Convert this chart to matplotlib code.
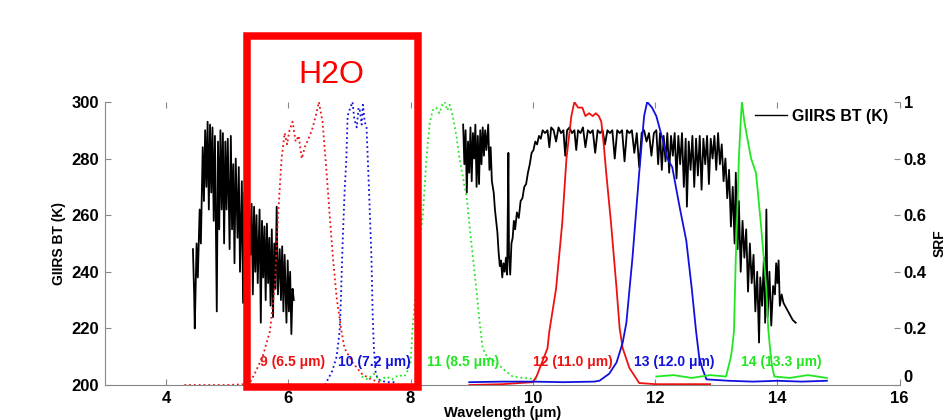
import matplotlib
matplotlib.use('Agg')
from matplotlib import pyplot as plt
from matplotlib.patches import Rectangle
from matplotlib.lines import Line2D

plt.rcParams['font.family'] = ['Liberation Sans', 'DejaVu Sans']

# GIIRS brightness temperature, (wavelength um, BT K)
bt_mw = [(4.44, 248), (4.46, 232), (4.47, 220), (4.50, 250), (4.52, 238), (4.55, 262), (4.57, 250),
         (4.60, 284), (4.62, 265), (4.64, 290), (4.66, 270), (4.68, 293), (4.70, 262), (4.72, 292),
         (4.74, 268), (4.76, 291), (4.78, 258), (4.80, 288), (4.83, 226), (4.85, 286), (4.87, 255),
         (4.89, 290), (4.91, 262), (4.93, 289), (4.95, 250), (4.97, 286), (4.99, 262), (5.01, 287),
         (5.04, 248), (5.06, 288), (5.08, 255), (5.10, 278), (5.12, 243), (5.14, 280), (5.17, 252),
         (5.19, 277), (5.21, 240), (5.24, 272), (5.26, 229), (5.28, 268), (5.30, 242), (5.32, 266),
         (5.34, 236), (5.36, 262), (5.38, 246), (5.40, 264), (5.42, 232), (5.44, 263), (5.46, 240),
         (5.48, 260), (5.50, 236), (5.53, 262), (5.55, 222), (5.57, 258), (5.59, 238), (5.61, 256),
         (5.63, 230), (5.65, 257), (5.67, 236), (5.69, 252), (5.71, 228), (5.73, 255), (5.75, 224),
         (5.77, 250), (5.79, 234), (5.81, 263), (5.83, 232), (5.86, 248), (5.88, 230), (5.90, 249),
         (5.92, 226), (5.94, 246), (5.97, 222), (5.99, 244), (6.01, 226), (6.03, 240), (6.05, 218),
         (6.07, 234), (6.09, 230)]

bt_lw = [(8.86, 292), (8.88, 278), (8.90, 290), (8.92, 268), (8.94, 286), (8.96, 275), (8.98, 291),
         (9.00, 272), (9.02, 289), (9.04, 280), (9.06, 292), (9.08, 270), (9.10, 288), (9.12, 271),
         (9.14, 290), (9.16, 278), (9.18, 291), (9.20, 281), (9.22, 290), (9.24, 283), (9.27, 292),
         (9.29, 276), (9.31, 284), (9.33, 272), (9.36, 268), (9.38, 262), (9.40, 258), (9.42, 254),
         (9.44, 247), (9.46, 242), (9.48, 244), (9.50, 238), (9.52, 243), (9.54, 240), (9.56, 245),
         (9.58, 239), (9.60, 282), (9.61, 246), (9.63, 239), (9.65, 250), (9.67, 252), (9.69, 258),
         (9.71, 255), (9.74, 261), (9.77, 259), (9.80, 265), (9.83, 266), (9.86, 270), (9.89, 271),
         (9.92, 275), (9.95, 278), (9.98, 282), (10.01, 283), (10.04, 286), (10.07, 285), (10.10, 288),
         (10.13, 287), (10.16, 290), (10.20, 289), (10.24, 290), (10.27, 284), (10.30, 291), (10.34, 290),
         (10.38, 286), (10.42, 291), (10.46, 289), (10.50, 290), (10.53, 281), (10.56, 290), (10.60, 291),
         (10.64, 289), (10.68, 290), (10.71, 283), (10.74, 290), (10.78, 289), (10.82, 291), (10.86, 284),
         (10.90, 290), (10.94, 289), (10.98, 290), (11.02, 282), (11.06, 290), (11.10, 289), (11.14, 290),
         (11.18, 285), (11.22, 290), (11.26, 289), (11.30, 290), (11.34, 280), (11.38, 290), (11.42, 289),
         (11.46, 290), (11.50, 279), (11.54, 290), (11.58, 289), (11.62, 290), (11.66, 282), (11.70, 289),
         (11.74, 277), (11.78, 289), (11.82, 290), (11.86, 286), (11.90, 289), (11.94, 281), (11.98, 289),
         (12.02, 290), (12.05, 278), (12.08, 289), (12.11, 276), (12.14, 288), (12.17, 279), (12.20, 289),
         (12.23, 275), (12.26, 288), (12.29, 281), (12.32, 289), (12.35, 273), (12.38, 288), (12.41, 278),
         (12.44, 289), (12.47, 270), (12.50, 287), (12.52, 263), (12.55, 286), (12.58, 276), (12.61, 288),
         (12.64, 270), (12.67, 287), (12.70, 274), (12.73, 288), (12.76, 269), (12.79, 287), (12.82, 278),
         (12.85, 288), (12.88, 271), (12.91, 287), (12.94, 280), (12.97, 288), (13.00, 276), (13.03, 289),
         (13.06, 278), (13.09, 285), (13.12, 272), (13.15, 280), (13.18, 266), (13.21, 276), (13.24, 256),
         (13.27, 270), (13.30, 250), (13.32, 275), (13.35, 248), (13.37, 265), (13.40, 240), (13.43, 258),
         (13.46, 245), (13.49, 255), (13.52, 233), (13.55, 250), (13.58, 236), (13.61, 246), (13.64, 226),
         (13.67, 240), (13.70, 215), (13.72, 238), (13.75, 228), (13.78, 245), (13.80, 222), (13.82, 262),
         (13.84, 224), (13.87, 240), (13.90, 221), (13.93, 235), (13.96, 232), (13.98, 243), (14.00, 236),
         (14.02, 244), (14.04, 228), (14.07, 232), (14.10, 229), (14.15, 227), (14.20, 225), (14.25, 223),
         (14.30, 222)]

# spectral response functions of the channels
ch9 = [(4.30, 0.0), (5.00, 0.0), (5.30, 0.003), (5.37, 0.007), (5.45, 0.04), (5.58, 0.10), (5.70, 0.19),
       (5.78, 0.35), (5.83, 0.59), (5.89, 0.80), (5.94, 0.89), (5.98, 0.85), (6.02, 0.90), (6.07, 0.93),
       (6.12, 0.86), (6.17, 0.88), (6.22, 0.80), (6.27, 0.84), (6.30, 0.855), (6.35, 0.88), (6.40, 0.91),
       (6.46, 0.96), (6.50, 1.0), (6.56, 0.93), (6.63, 0.74), (6.68, 0.59), (6.73, 0.45), (6.79, 0.31),
       (6.87, 0.19), (6.92, 0.13), (7.05, 0.08), (7.20, 0.04), (7.35, 0.02), (7.50, 0.01)]
ch10 = [(6.60, 0.0), (6.72, 0.05), (6.79, 0.10), (6.84, 0.19), (6.86, 0.30), (6.89, 0.51), (6.92, 0.68),
        (6.95, 0.80), (6.97, 0.95), (7.00, 0.97), (7.05, 1.0), (7.08, 0.94), (7.12, 0.91), (7.15, 0.98),
        (7.17, 0.97), (7.20, 0.92), (7.22, 0.99), (7.25, 0.93), (7.28, 0.91), (7.30, 0.80), (7.32, 0.69),
        (7.36, 0.45), (7.38, 0.25), (7.40, 0.13), (7.43, 0.04), (7.47, 0.02), (7.60, 0.01), (7.75, 0.01)]
ch11 = [(7.20, 0.03), (7.30, 0.02), (7.40, 0.04), (7.50, 0.015), (7.60, 0.03), (7.70, 0.02), (7.80, 0.035),
        (7.90, 0.03), (7.95, 0.05), (8.00, 0.08), (8.03, 0.19), (8.10, 0.38), (8.15, 0.51), (8.20, 0.60),
        (8.26, 0.80), (8.31, 0.92), (8.36, 0.97), (8.42, 0.98), (8.47, 0.96), (8.52, 0.99), (8.56, 1.0),
        (8.60, 0.97), (8.64, 0.99), (8.69, 0.95), (8.75, 0.88), (8.80, 0.80), (8.86, 0.73), (8.92, 0.66),
        (8.97, 0.55), (9.02, 0.45), (9.08, 0.33), (9.13, 0.22), (9.18, 0.13), (9.25, 0.10), (9.40, 0.08),
        (9.55, 0.05), (9.67, 0.03), (9.85, 0.025), (10.10, 0.02)]
ch12 = [(8.96, 0.0), (9.50, 0.003), (10.00, 0.01), (10.06, 0.03), (10.15, 0.08), (10.24, 0.13),
        (10.27, 0.19), (10.38, 0.34), (10.48, 0.57), (10.55, 0.80), (10.63, 0.95), (10.68, 1.0),
        (10.74, 0.98), (10.81, 0.98), (10.86, 0.95), (10.92, 0.96), (10.98, 0.95), (11.03, 0.96),
        (11.08, 0.95), (11.12, 0.93), (11.16, 0.85), (11.20, 0.75), (11.28, 0.57), (11.37, 0.34),
        (11.42, 0.20), (11.47, 0.13), (11.58, 0.06), (11.74, 0.007), (12.00, 0.003), (12.90, 0.003)]
ch13 = [(8.96, 0.01), (9.50, 0.012), (10.00, 0.012), (10.50, 0.01), (11.00, 0.012), (11.09, 0.015),
        (11.25, 0.04), (11.37, 0.08), (11.47, 0.15), (11.53, 0.22), (11.63, 0.45), (11.74, 0.75),
        (11.82, 0.95), (11.87, 1.0), (11.95, 0.98), (12.02, 0.95), (12.12, 0.87), (12.20, 0.80),
        (12.28, 0.77), (12.40, 0.63), (12.51, 0.51), (12.60, 0.34), (12.67, 0.19), (12.72, 0.10),
        (12.77, 0.06), (12.84, 0.02), (13.20, 0.015), (13.60, 0.012), (14.00, 0.015), (14.40, 0.012),
        (14.81, 0.015)]
ch14 = [(12.02, 0.03), (12.30, 0.035), (12.60, 0.025), (12.90, 0.035), (13.16, 0.03), (13.24, 0.10),
        (13.26, 0.13), (13.29, 0.19), (13.32, 0.45), (13.35, 0.65), (13.37, 0.80), (13.40, 0.93),
        (13.42, 1.0), (13.46, 0.93), (13.51, 0.87), (13.57, 0.80), (13.65, 0.75), (13.73, 0.57),
        (13.82, 0.34), (13.85, 0.20), (13.88, 0.13), (13.91, 0.07), (13.95, 0.03), (14.20, 0.025),
        (14.50, 0.035), (14.81, 0.025)]

red, blue, green = '#ee1111', '#1111dd', '#22e622'
channels = [(ch9, red, ':'), (ch10, blue, ':'), (ch11, green, ':'),
            (ch12, red, '-'), (ch13, blue, '-'), (ch14, green, '-')]
ch_labels = ['9 (6.5 \u03bcm)', '10 (7.2 \u03bcm)', '11 (8.5 \u03bcm)',
             '12 (11.0 \u03bcm)', '13 (12.0 \u03bcm)', '14 (13.3 \u03bcm)']
label_x = [5.53, 6.82, 8.27, 10.0, 11.65, 13.4]
label_colors = [red, blue, green, red, blue, green]

fig = plt.figure(figsize=(9.45, 4.2), dpi=100)
ax = fig.add_axes([0.111, 0.0833, 0.841, 0.674])

for seg in (bt_mw, bt_lw):
    ax.plot([p[0] for p in seg], [p[1] for p in seg], color='black', lw=1.3)

ax.set_xlim(3, 16)
ax.set_ylim(200, 300)
ax.set_xticks([4, 6, 8, 10, 12, 14, 16])
ax.set_yticks([200, 220, 240, 260, 280, 300])
ax.set_xlabel('Wavelength (\u03bcm)', fontsize=10.5, fontweight='bold', labelpad=0)
ax.set_ylabel('GIIRS BT (K)', fontsize=10, fontweight='bold', labelpad=4)
ax.tick_params(direction='in', length=4, color='#888888', top=True, labelsize=12, pad=4)
for lab in ax.get_xticklabels() + ax.get_yticklabels():
    lab.set_fontweight('bold')
ax.spines['top'].set_visible(False)
ax.spines['right'].set_visible(False)
ax.spines['left'].set_color('#888888')
ax.spines['bottom'].set_color('#888888')

ax2 = ax.twinx()
for (ch, col, ls) in channels:
    ax2.plot([p[0] for p in ch], [p[1] for p in ch], color=col, ls=ls, lw=1.3)
for lx, txt, col in zip(label_x, ch_labels, label_colors):
    ax2.text(lx, 0.081, txt, color=col, fontsize=10, fontweight='bold', ha='left', va='center')
ax2.set_ylim(0, 1)
ax2.set_yticks([0, 0.2, 0.4, 0.6, 0.8, 1])
ax2.set_yticklabels(['0', '0.2', '0.4', '0.6', '0.8', '1'])
ax2.tick_params(direction='in', length=4, color='#888888', labelsize=12, pad=3)
for lab in ax2.get_yticklabels():
    lab.set_fontweight('bold')
ax2.get_yticklabels()[0].set_verticalalignment('bottom')
ax2.set_ylabel('SRF', fontsize=10, fontweight='bold', labelpad=4)
for s in ('top', 'right', 'left', 'bottom'):
    ax2.spines[s].set_visible(False)

leg = ax2.legend([Line2D([], [], color='black', lw=1.0)], ['GIIRS BT (K)'],
                 loc='upper left', bbox_to_anchor=(755 / 945, 1 - 109 / 420),
                 bbox_transform=fig.transFigure, frameon=False, borderpad=0,
                 borderaxespad=0, handlelength=2.0, handletextpad=0.3,
                 prop={'size': 11.5, 'weight': 'bold'})

box = Rectangle((247 / 945, 1 - 387 / 420), (418 - 247) / 945, (387 - 36) / 420,
                transform=fig.transFigure, fill=False, edgecolor='#ff0000', lw=5.4, zorder=10)
fig.add_artist(box)
fig.text(331 / 945, 1 - 75 / 420, 'H2O', color='#ff0000', fontsize=23, ha='center', va='center')

fig.savefig('out.png', dpi=100)
